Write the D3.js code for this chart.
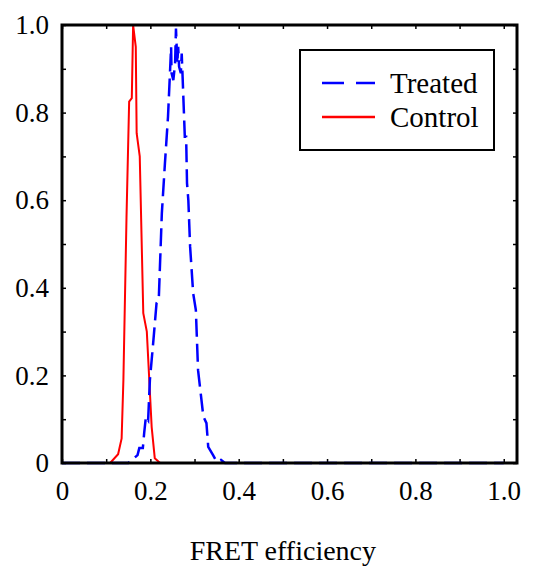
<!DOCTYPE html>
<html>
<head>
  <meta charset="UTF-8">
  <title>FRET efficiency</title>
  <script src="https://d3js.org/d3.v7.min.js"></script>
  <style>
    body {
      margin: 0;
      background: #fff;
    }
    svg text {
      font-family: "Liberation Serif", serif !important;
    }
    .axis line {
      stroke: #000;
      stroke-width: 1.5;
    }
  </style>
</head>
<body>
  <div id="chart"></div>
  <script>
    // control curve (red, solid)
    const controlX = [0, 0.109, 0.127, 0.135, 0.139, 0.146, 0.152, 0.158, 0.161, 0.167, 0.169, 0.176, 0.184, 0.192, 0.203, 0.210, 0.222, 1.0];
    const controlY = [0, 0, 0.02, 0.056, 0.19, 0.56, 0.825, 0.833, 1.0, 0.95, 0.753, 0.70, 0.342, 0.30, 0.082, 0.011, 0, 0];

    // treated curve (blue, dashed)
    const treatedX = [0, 0.150, 0.171, 0.175, 0.183, 0.186, 0.190, 0.195, 0.199, 0.207, 0.214, 0.219, 0.226, 0.233, 0.240, 0.243, 0.247, 0.248, 0.252, 0.256, 0.258, 0.261, 0.263, 0.265, 0.269, 0.271, 0.273, 0.278, 0.281, 0.283, 0.286, 0.290, 0.297, 0.303, 0.308, 0.320, 0.327, 0.331, 0.342, 0.350, 0.360, 0.369, 1.0];
    const treatedY = [0, 0, 0.018, 0.034, 0.034, 0.068, 0.106, 0.098, 0.19, 0.281, 0.365, 0.372, 0.570, 0.684, 0.791, 0.859, 0.950, 0.890, 0.874, 0.912, 0.992, 0.912, 0.950, 0.905, 0.89, 0.935, 0.882, 0.745, 0.745, 0.639, 0.600, 0.494, 0.387, 0.349, 0.212, 0.106, 0.091, 0.037, 0.018, 0.003, 0.007, 0, 0];

    const tickValues = [0, 0.1, 0.2, 0.3, 0.4, 0.5, 0.6, 0.7, 0.8, 0.9, 1.0];
    const tickLabels = ["0", "", "0.2", "", "0.4", "", "0.6", "", "0.8", "", "1.0"];
    const seriesNames = ["Treated", "Control"];
    const seriesColors = ["#0000ff", "#ff0000"];

    const W = 537, H = 566;
    const plotL = 62, plotR = 517, plotT = 25, plotB = 463;

    const x = d3.scaleLinear().domain([0, 1.03]).range([plotL, plotR]);
    const y = d3.scaleLinear().domain([0, 1]).range([plotB, plotT]);

    const svg = d3.select("#chart").append("svg")
      .attr("width", W)
      .attr("height", H);

    const fmt = d => tickLabels[tickValues.findIndex(v => Math.abs(v - d) < 1e-9)];

    const styleAxis = g => {
      g.select(".domain").remove();
      g.attr("font-family", null).attr("font-size", 27);
      g.selectAll("text")
        .attr("fill", "#000")
        .style("font-family", "Liberation Serif");
    };

    // bottom / left axes with inward ticks
    svg.append("g")
      .attr("class", "axis")
      .attr("transform", `translate(0,${plotB})`)
      .call(d3.axisBottom(x).tickValues(tickValues).tickFormat(fmt).tickSizeInner(-4).tickSizeOuter(0).tickPadding(18))
      .call(styleAxis);

    svg.append("g")
      .attr("class", "axis")
      .attr("transform", `translate(${plotL},0)`)
      .call(d3.axisLeft(y).tickValues(tickValues).tickFormat(fmt).tickSizeInner(-4).tickSizeOuter(0).tickPadding(13))
      .call(styleAxis);

    // top / right ticks, no labels
    svg.append("g")
      .attr("class", "axis")
      .attr("transform", `translate(0,${plotT})`)
      .call(d3.axisTop(x).tickValues(tickValues).tickFormat("").tickSizeInner(-4).tickSizeOuter(0))
      .call(styleAxis);

    svg.append("g")
      .attr("class", "axis")
      .attr("transform", `translate(${plotR},0)`)
      .call(d3.axisRight(y).tickValues(tickValues).tickFormat("").tickSizeInner(-4).tickSizeOuter(0))
      .call(styleAxis);

    const line = d3.line().x(d => x(d[0])).y(d => y(d[1]));

    svg.append("path")
      .datum(controlX.map((v, i) => [v, controlY[i]]))
      .attr("d", line)
      .attr("fill", "none")
      .attr("stroke", seriesColors[1])
      .attr("stroke-width", 2);

    svg.append("path")
      .datum(treatedX.map((v, i) => [v, treatedY[i]]))
      .attr("d", line)
      .attr("fill", "none")
      .attr("stroke", seriesColors[0])
      .attr("stroke-width", 2.5)
      .attr("stroke-dasharray", "18,7");

    // frame
    svg.append("rect")
      .attr("x", plotL)
      .attr("y", plotT)
      .attr("width", plotR - plotL)
      .attr("height", plotB - plotT)
      .attr("fill", "none")
      .attr("stroke", "#000")
      .attr("stroke-width", 3);

    // legend
    const legend = svg.append("g").attr("transform", "translate(300,50)");
    legend.append("rect")
      .attr("width", 194)
      .attr("height", 100)
      .attr("fill", "#fff")
      .attr("stroke", "#000")
      .attr("stroke-width", 2);

    seriesNames.forEach((name, i) => {
      const ly = 33 + i * 34;
      legend.append("line")
        .attr("x1", 22).attr("x2", 75)
        .attr("y1", ly).attr("y2", ly)
        .attr("stroke", seriesColors[i])
        .attr("stroke-width", 2.5)
        .attr("stroke-dasharray", i === 0 ? "22,12" : null);
      legend.append("text")
        .attr("x", 90)
        .attr("y", ly + 10)
        .attr("font-size", 29)
        .text(name);
    });

    svg.append("text")
      .attr("x", x(0.5))
      .attr("y", 560)
      .attr("text-anchor", "middle")
      .attr("font-size", 28)
      .text("FRET efficiency");
  </script>
</body>
</html>
